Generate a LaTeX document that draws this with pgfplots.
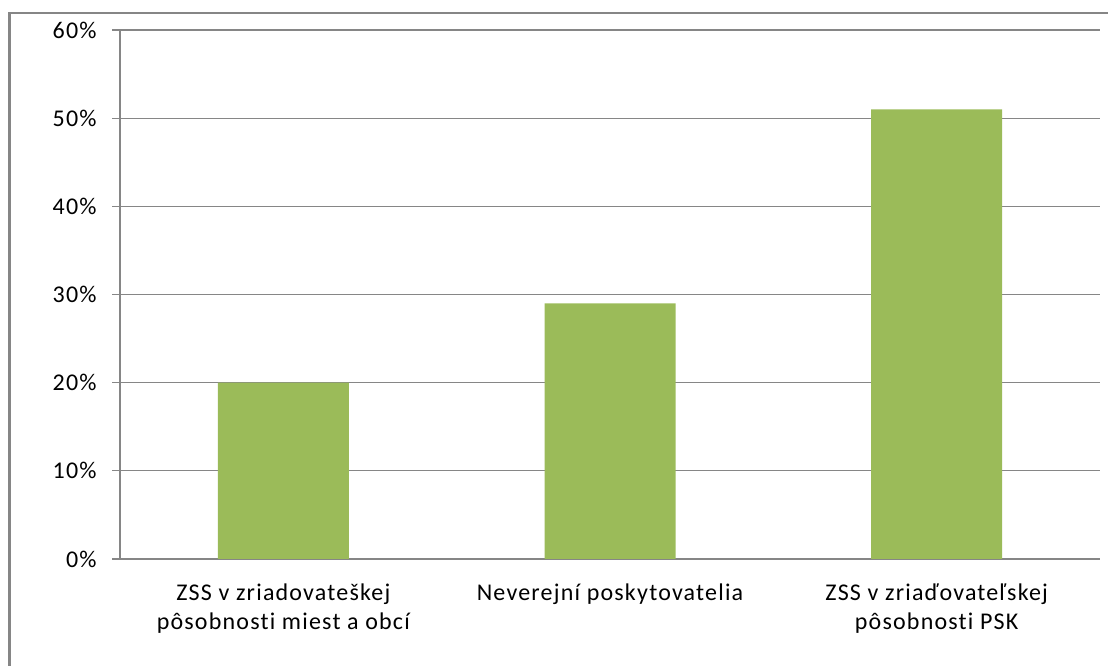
\documentclass[border=0pt]{standalone}
\usepackage{pgfplots}
\pgfplotsset{compat=1.18}
\usepackage{fontspec}
\setmainfont{Carlito}[Ligatures=NoCommon, LetterSpace=5]
\definecolor{barGreen}{HTML}{9BBB59}
\definecolor{axisGray}{HTML}{868686}

\begin{document}
\begin{tikzpicture}
\useasboundingbox (0,0) rectangle (831pt,499.5pt);
% outer chart frame (left and top visible, right/bottom cut off)
\draw[axisGray, line width=2.2pt] (7pt,0) -- (7pt,489.75pt) -- (831pt,489.75pt);
\begin{axis}[
  at={(90pt,80.25pt)}, anchor=south west,
  scale only axis,
  width=735pt, height=396.75pt,
  xmin=-0.5, xmax=2.5,
  ymin=0, ymax=60,
  axis lines*=left,
  axis line style={axisGray, line width=0.9pt},
  ytick={0,10,...,60},
  yticklabel={\pgfmathprintnumber{\tick}\%},
  /pgf/number format/assume math mode=true,
  ymajorgrids,
  grid style={axisGray, line width=0.9pt},
  tick align=outside,
  ytick style={axisGray, line width=0.9pt},
  major tick length=6pt,
  xtick={0,1,2},
  xtick style={draw=none},
  minor xtick={-0.5,0.5,1.5,2.5},
  minor tick length=6pt,
  minor x tick style={axisGray, line width=0.9pt},
  xticklabels={{ZSS v zriadovateškej\\pôsobnosti miest a obcí},
               {Neverejní poskytovatelia},
               {ZSS v zriaďovateľskej\\pôsobnosti PSK}},
  x tick label style={align=center, anchor=north, yshift=-9pt},
  tick label style={font=\fontsize{18}{22}\selectfont, text=black},
  y tick label style={xshift=-8pt},
  clip=false,
]
\addplot[ybar, bar width=98.25pt, fill=barGreen, draw=none]
  coordinates {(0,20) (1,29) (2,51)};
\end{axis}
\end{tikzpicture}
\end{document}
